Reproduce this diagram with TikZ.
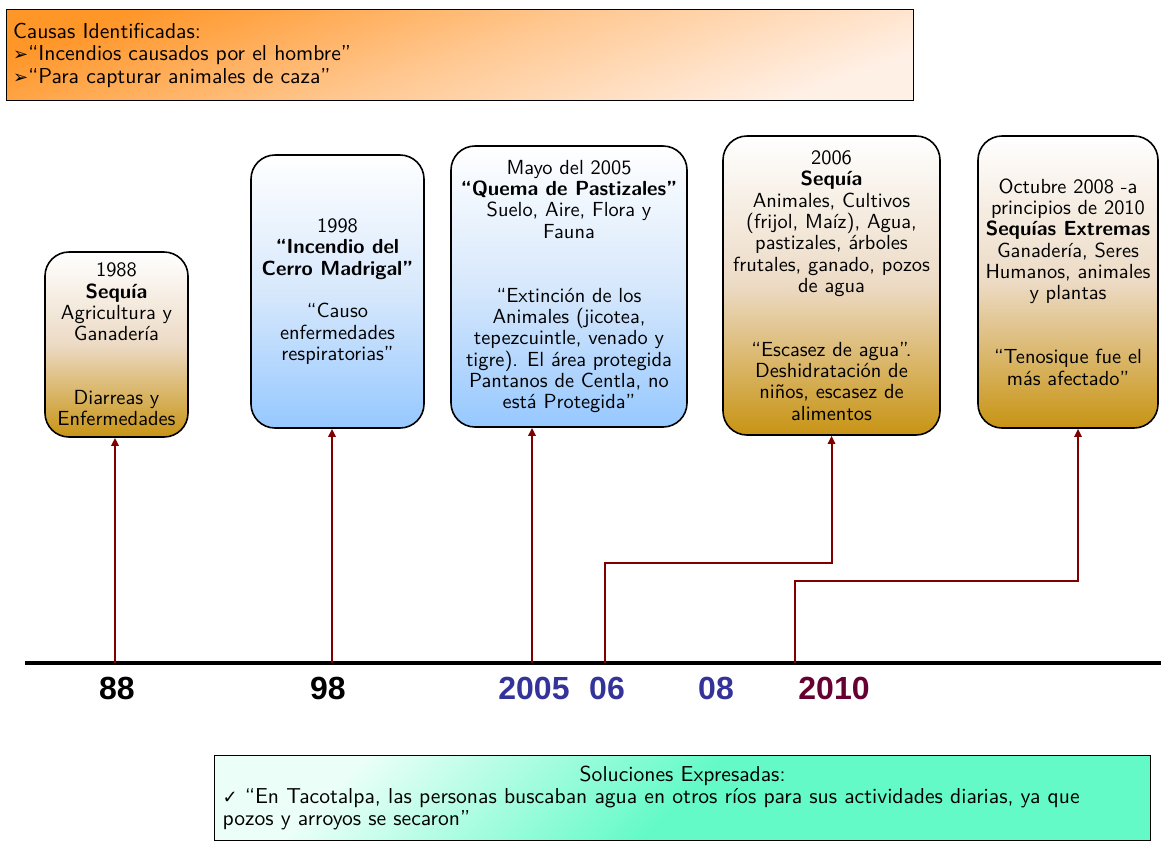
\documentclass[tikz,border=0pt]{standalone}
\usepackage{fontspec}
\newfontfamily\yearfont{Liberation Sans}
\newfontfamily\dingfont{DejaVu Sans}
\usetikzlibrary{arrows.meta,calc,positioning}
\definecolor{arrowred}{RGB}{128,0,0}
\definecolor{gold}{RGB}{200,148,20}
\definecolor{tan}{RGB}{236,218,196}
\definecolor{skyb}{RGB}{150,200,255}
\definecolor{paleb}{RGB}{215,232,252}
\definecolor{orng}{RGB}{255,150,40}
\definecolor{peach}{RGB}{255,240,230}
\definecolor{mint}{RGB}{100,250,200}
\definecolor{palemint}{RGB}{235,255,248}
\definecolor{yearblue}{RGB}{51,51,153}
\definecolor{yearred}{RGB}{102,0,51}

\begin{document}
\begin{tikzpicture}[x=0.5pt,y=-0.5pt,>={Triangle[length=4pt,width=3.6pt]},
    event/.style={draw,rounded corners=12pt,line width=0.8pt,align=center,inner sep=0pt,
        font=\sffamily\fontsize{10.2}{10.65}\selectfont},
    dry/.style={event,top color=white,bottom color=gold,middle color=tan},
    fire/.style={event,top color=white,bottom color=skyb,middle color=paleb},
    note/.style={draw,line width=0.6pt,anchor=north west,align=left,
        font=\sffamily\fontsize{10.8}{11.2}\selectfont},
    link/.style={->,draw=arrowred,line width=1pt},
    year/.style={font=\yearfont\bfseries\fontsize{16}{16}\selectfont}]
    \useasboundingbox (0,0) rectangle (1161,842);

    % causes
    \node[note,minimum width=453.5pt,minimum height=45.5pt,text width=447pt,inner xsep=3pt,
        top color=orng,bottom color=peach,middle color=orng!45!peach,shading angle=20] (causes) at (6,9)
        {Causas Identificadas:\\
         {\dingfont\small ➢}“Incendios causados por el hombre”\\
         {\dingfont\small ➢}“Para capturar animales de caza”};

    % events
    \node[dry,minimum width=71.5pt,minimum height=92.5pt] (e1) at (116.5,344.5)
        {1988\\ \textbf{Sequía}\\ Agricultura y\\ Ganadería\\[21.3pt]
         Diarreas y\\ Enfermedades};
    \node[fire,minimum width=86.5pt,minimum height=136.5pt] (e2) at (337.5,291.5)
        {1998\\ \textbf{“Incendio del}\\ \textbf{Cerro Madrigal”}\\[10.65pt]
         “Causo\\ enfermedades\\ respiratorias”};
    \node[fire,minimum width=118pt,minimum height=140.5pt] (e3) at (569,286.5)
        {Mayo del 2005\\ \textbf{“Quema de Pastizales”}\\ Suelo, Aire, Flora y\\ Fauna\\[21.3pt]
         “Extinción de los\\ Animales (jicotea,\\ tepezcuintle, venado y\\
         tigre). El área protegida\\ Pantanos de Centla, no\\ está Protegida”};
    \node[dry,minimum width=108.5pt,minimum height=149.5pt] (e4) at (831.5,285.5)
        {2006\\ \textbf{Sequía}\\ Animales, Cultivos\\ (frijol, Maíz), Agua,\\
         pastizales, árboles\\ frutales, ganado, pozos\\ de agua\\[21.3pt]
         “Escasez de agua”.\\ Deshidratación de\\ niños, escasez de\\ alimentos};
    \node[dry,minimum width=90pt,minimum height=146pt] (e5) at (1068,282)
        {Octubre 2008 -a\\ principios de 2010\\ \textbf{Sequías Extremas}\\
         Ganadería, Seres\\ Humanos, animales\\ y plantas\\[21.3pt]
         “Tenosique fue el\\ más afectado”};

    % time axis
    \draw[line width=1.6pt] (25,663) -- (1161,663);
    \coordinate (t88) at (115,663);
    \coordinate (t98) at (332,663);
    \coordinate (t05) at (532,663);
    \coordinate (t06) at (605,663);
    \coordinate (t10) at (795,663);
    \coordinate (b06) at (605,563);
    \coordinate (b10) at (795,581);

    \node[year] (y88) at (117,688) {88};
    \node[year] (y98) at (328,688) {98};
    \node[year,yearblue] (y05) at (534,688) {2005};
    \node[year,yearblue] (y06) at (607,688) {06};
    \node[year,yearblue] (y08) at (716,688) {08};
    \node[year,yearred] (y10) at (834,688) {2010};

    \draw[link] (t88) -- (t88 |- e1.south);
    \draw[link] (t98) -- (t98 |- e2.south);
    \draw[link] (t05) -- (t05 |- e3.south);
    \draw[link] (t06) -- (b06) -| (e4.south);
    \draw[link] (t10) -- (b10) -| ([xshift=5pt]e5.south);

    % solutions
    \node[note,text width=460pt,inner xsep=4pt,inner ysep=5pt,
        top color=palemint,bottom color=mint,middle color=mint,shading angle=45] (solutions) at (214,755)
        {\hfill Soluciones Expresadas:\hfill\null\\
         {\dingfont\small ✓} “En Tacotalpa, las personas buscaban agua en otros ríos para sus actividades diarias, ya que\\
         pozos y arroyos se secaron”\\[4pt]};
\end{tikzpicture}
\end{document}
